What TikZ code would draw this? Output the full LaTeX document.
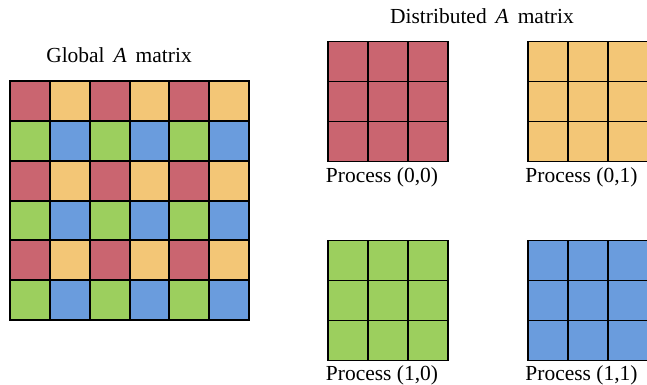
\documentclass[tikz,border=0pt]{standalone}
\usepackage{fontspec}
\setmainfont{Liberation Serif}

\definecolor{blk0}{HTML}{CA6570}
\definecolor{blk1}{HTML}{F3C676}
\definecolor{blk2}{HTML}{9CCF5E}
\definecolor{blk3}{HTML}{6A9CDD}

\begin{document}
\begin{tikzpicture}[
    x=0.466pt, y=-0.466pt,
    cell/.style={draw=black, line width=0.9pt},
    heading/.style={anchor=base, inner sep=0pt, font=\normalsize},
    proctext/.style={anchor=base, inner sep=0pt}
]
    \useasboundingbox (0,0) rectangle (647,385);
    \node[heading] (global) at (119,62.5) {Global\, \textit{A}\, matrix};
    \node[heading] (dist) at (482,23.5) {Distributed\, \textit{A}\, matrix};
    \foreach \r in {0,...,5}
        \foreach \c in {0,...,5} {
            \pgfmathtruncatemacro\p{2*mod(\r,2)+mod(\c,2)}
            \filldraw[cell, fill=blk\p] (10+39.85*\c,81+39.85*\r) rectangle ++(39.85,39.85);
        }
    \foreach \pr/\pc in {0/0,0/1,1/0,1/1} {
        \pgfmathtruncatemacro\p{2*\pr+\pc}
        \foreach \r in {0,1,2}
            \foreach \c in {0,1,2}
                \filldraw[cell, fill=blk\p] (328+200*\pc+40*\c,41.5+199*\pr+40*\r) rectangle ++(40,40);
        \node[proctext] (p\pr\pc) at (382+199.5*\pc,183+198*\pr) {Process (\pr,\pc)};
    }
\end{tikzpicture}
\end{document}
